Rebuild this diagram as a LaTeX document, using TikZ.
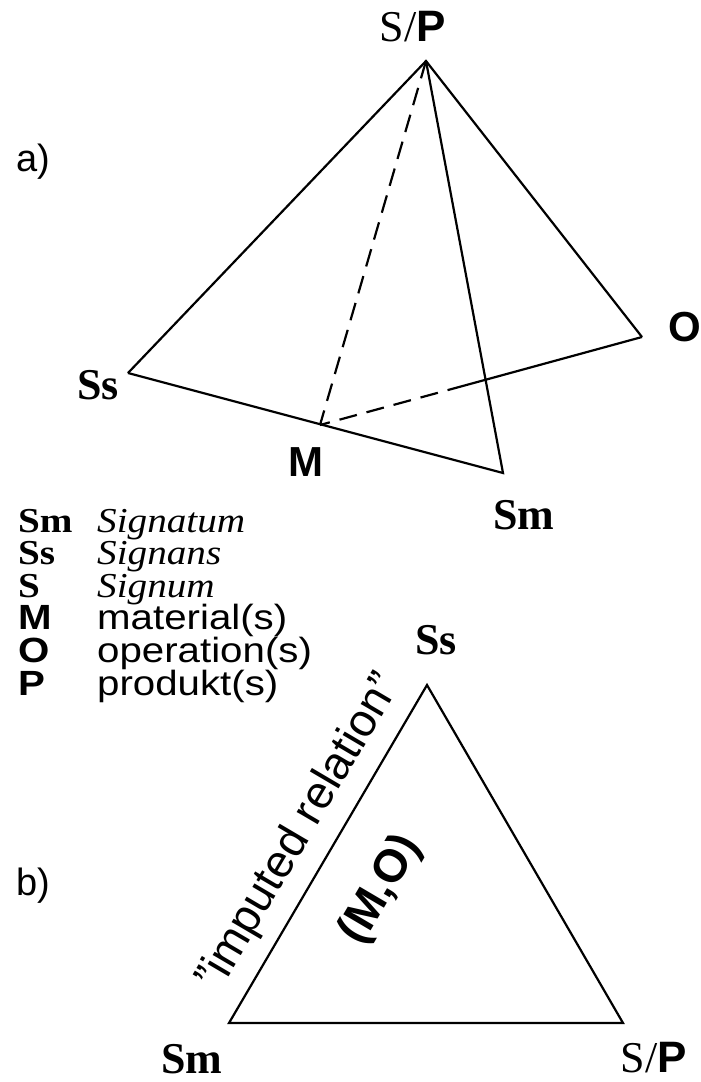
\documentclass[tikz,border=0pt]{standalone}
\usepackage{fontspec}
\setmainfont{Liberation Serif}
\setsansfont{Liberation Sans}
\newfontfamily\legserif[FakeStretch=1.12]{Liberation Serif}
\newfontfamily\legsans[FakeStretch=1.15]{Liberation Sans}
\usepackage{tikz}
\usetikzlibrary{positioning, calc}

\newcommand{\serifkey}{\fontsize{44}{52}\selectfont\bfseries}
\newcommand{\sanskey}{\fontsize{42}{50}\selectfont\sffamily\bfseries}
\newcommand{\sanstext}{\fontsize{38}{46}\selectfont\sffamily}
\newcommand{\spkey}{\fontsize{44}{52}\selectfont S/\textsf{\bfseries P}}

\begin{document}
\begin{tikzpicture}[x=1pt, y=-1pt,
	kante/.style={line width=2.2pt, line join=miter},
	verdeckt/.style={kante, dash pattern=on 18pt off 10pt},
	ecke/.style={inner sep=0pt, font=\serifkey},
	sfecke/.style={inner sep=0pt, font=\sanskey},
	legende/.style={anchor=base west, inner sep=0pt, font=\fontsize{35}{42}\selectfont}]
	\useasboundingbox (0,0) rectangle (701,1082);

	% a) Tetraeder
	\coordinate (top) at (426,61);
	\coordinate (ss) at (128,373);
	\coordinate (m) at (320,425);
	\coordinate (sm) at (503,473);
	\coordinate (o) at (642,337);
	\coordinate (knick) at ($(o)!0.55!(m)$);

	\draw[kante] (ss) -- (top) -- (o);
	\draw[kante] (top) -- (sm) -- (ss);
	\draw[kante] (o) -- (knick);
	\draw[verdeckt] (knick) -- (m);
	\draw[verdeckt] (top) -- (m);

	\node[inner sep=0pt] (sp1) at (413,27) {\spkey};
	\node[sfecke] (lo) at (685,327) {O};
	\node[ecke] (lss) at (98,385) {Ss};
	\node[sfecke] (lm) at (306,462) {M};
	\node[ecke] (lsm) at (524,515) {Sm};
	\node[inner sep=0pt, font=\sanstext] (la) at (33,162) {a)};

	% Legende
	\foreach \k/\t [count=\i] in {
		{\legserif\bfseries Sm}/{\legserif\itshape Signatum},
		{\legserif\bfseries Ss}/{\legserif\itshape Signans},
		{\legserif\bfseries S}/{\legserif\itshape Signum},
		{\legsans\bfseries M}/{\legsans material(s)},
		{\legsans\bfseries O}/{\legsans operation(s)},
		{\legsans\bfseries P}/{\legsans produkt(s)}}{
		\node[legende] (k\i) at (18,{532+32.6*(\i-1)}) {\k};
		\node[legende] (t\i) at (97,{532+32.6*(\i-1)}) {\t};
	}

	% b) Dreieck
	\coordinate (bss) at (427,685);
	\coordinate (bsm) at (229,1023);
	\coordinate (bsp) at (623,1023);
	\draw[kante] (bss) -- (bsm) -- (bsp) -- cycle;

	\node[ecke] (lbss) at (436,640) {Ss};
	\node[ecke] (lbsm) at (192,1059) {Sm};
	\node[inner sep=0pt] (sp2) at (654,1058) {\spkey};
	\node[inner sep=0pt, font=\sanstext] (lb) at (33,886) {b)};
	\node[inner sep=0pt, font=\fontsize{46}{54}\selectfont\sffamily, rotate=59.5] (imp) at (300,832) {”imputed relation”};
	\node[inner sep=0pt, font=\fontsize{46}{54}\selectfont\sffamily\bfseries, rotate=59.5] (mo) at (381,890) {(M,O)};
\end{tikzpicture}
\end{document}
